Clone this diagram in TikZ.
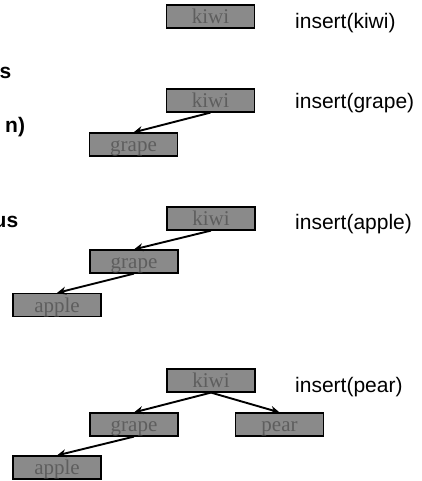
\documentclass[tikz,border=0pt]{standalone}
\usepackage{fontspec}
\setmainfont{Liberation Serif}
\setsansfont{Liberation Sans}
\usetikzlibrary{arrows.meta}
\definecolor{boxfill}{HTML}{8A8A8A}
\definecolor{boxtext}{HTML}{5E5E5E}
\tikzset{
  treebox/.style={draw=black, line width=1.2pt, fill=boxfill, minimum width=88pt, minimum height=23pt, inner sep=0pt, text height=18.5pt, text depth=4.5pt, text=boxtext, font=\fontsize{21}{21}\selectfont},
  oplabel/.style={anchor=base west, inner sep=0pt, font=\sffamily\fontsize{21}{21}\selectfont},
  frag/.style={anchor=base west, inner sep=0pt, font=\sffamily\bfseries\fontsize{21}{21}\selectfont},
  edge/.style={line width=1.9pt, -{Stealth[length=9pt,width=8pt]}}
}
\begin{document}
\begin{tikzpicture}[x=1pt,y=-1pt]
\useasboundingbox (0,0) rectangle (421,481);
% partial texts at left edge
\node[frag] (f1) at (-0.5,79) {s};
\node[frag] (f2) at (5,133) {n)};
\node[frag] (f3) at (-6.5,227) {us};
% panel 1
\node[treebox] (k1) at (210.5,16.5) {kiwi};
\node[oplabel] (l1) at (295,29) {insert(kiwi)};
% panel 2
\node[treebox] (k2) at (210.5,100.5) {kiwi};
\node[treebox] (g2) at (133.5,144.5) {grape};
\node[oplabel] (l2) at (295,109) {insert(grape)};
\draw[edge] (k2.south) -- (g2.north);
% panel 3
\node[treebox] (k3) at (211,218.5) {kiwi};
\node[treebox] (g3) at (134,261.5) {grape};
\node[treebox] (a3) at (57,305) {apple};
\node[oplabel] (l3) at (295,229) {insert(apple)};
\draw[edge] (k3.south) -- (g3.north);
\draw[edge] (g3.south) -- (a3.north);
% panel 4
\node[treebox] (k4) at (211,380.5) {kiwi};
\node[treebox] (g4) at (134,424.5) {grape};
\node[treebox] (p4) at (279.5,424.5) {pear};
\node[treebox] (a4) at (57,467.5) {apple};
\node[oplabel] (l4) at (295,392) {insert(pear)};
\draw[edge] (k4.south) -- (g4.north);
\draw[edge] (k4.south) -- (p4.north);
\draw[edge] (g4.south) -- (a4.north);
\end{tikzpicture}
\end{document}
